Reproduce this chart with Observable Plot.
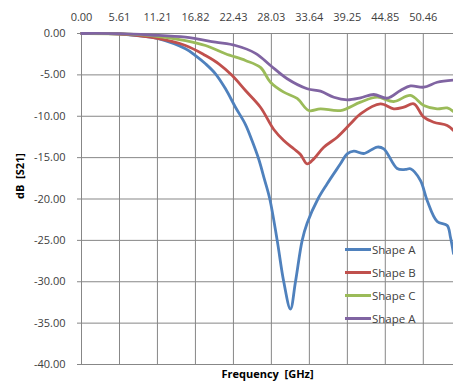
<!DOCTYPE html>
<html>
<head>
<meta charset="utf-8">
<script src="https://cdn.jsdelivr.net/npm/d3@7"></script>
<script src="https://cdn.jsdelivr.net/npm/@observablehq/plot@0.6"></script>
<style>
  html, body { margin: 0; padding: 0; background: #fff; }
  #wrap { position: relative; width: 453px; height: 385px; font-family: "Open Sans", "Liberation Sans", sans-serif; }
  #legend { position: absolute; left: 345px; top: 237.5px; font-size: 11.5px; color: #404040; }
  .li { display: flex; align-items: center; height: 23px; }
  .sw { width: 26px; height: 0; border-top: 3px solid; margin-right: 1px; }
</style>
</head>
<body>
<div id="wrap"></div>
<script>
// Frequency tick values/labels (GHz)
const xTicks = [0, 5.61, 11.21, 16.82, 22.43, 28.03, 33.64, 39.25, 44.85, 50.46];
const yTicks = [0, -5, -10, -15, -20, -25, -30, -35, -40];

const seriesNames = ["Shape A", "Shape B", "Shape C", "Shape A"];
const seriesColors = ["#4F81BD", "#C0504D", "#9BBB59", "#8064A2"];

// Shape A (blue)
const freqA = [0, 5.61, 10.19, 11.22, 15.35, 16.83, 18.31, 19.78, 21.26, 22.73, 24.21, 25.2, 26.17, 27.0, 27.8, 28.89, 29.86, 30.85, 31.59, 32.58, 33.32, 34.9, 36.27, 38.23, 39.22, 40.2, 41.67, 43.65, 44.63, 46.6, 47.83, 48.57, 50.04, 51.03, 52.51, 53.99, 54.47, 54.92];
const dbA   = [0, -0.06, -0.45, -0.6, -1.85, -2.66, -3.66, -4.87, -6.68, -8.91, -11.0, -13.0, -15.2, -17.6, -20.0, -25.0, -30.0, -33.3, -30.0, -25.0, -22.9, -20.0, -18.16, -15.75, -14.54, -14.22, -14.5, -13.72, -13.93, -16.31, -16.43, -16.35, -17.76, -20.18, -22.72, -23.2, -24.62, -26.6];

// Shape B (red)
const freqB = [0, 5.61, 10.19, 15.35, 18.31, 20.27, 22.25, 24.21, 26.42, 28.39, 29.86, 31.34, 32.33, 33.32, 34.29, 35.77, 37.75, 39.71, 41.19, 44.14, 46.1, 47.58, 49.06, 50.53, 52.01, 53.99, 54.92];
const dbB   = [0, -0.06, -0.45, -1.45, -2.66, -3.66, -5.08, -6.89, -8.91, -11.6, -12.93, -13.93, -14.62, -15.75, -15.15, -13.74, -12.53, -10.91, -9.7, -8.5, -9.1, -8.91, -8.5, -10.11, -10.72, -11.12, -11.72];

// Shape C (green)
const freqC = [0, 5.61, 10.19, 15.35, 18.31, 21.26, 24.21, 26.42, 27.9, 29.86, 31.84, 33.55, 35.28, 38.23, 41.19, 43.65, 46.1, 48.57, 50.53, 52.51, 53.99, 54.92];
const dbC   = [0, -0.04, -0.24, -0.85, -1.45, -2.45, -3.26, -4.1, -5.89, -7.09, -7.85, -9.31, -9.1, -9.31, -8.3, -7.7, -8.22, -7.49, -8.7, -9.1, -9.0, -9.43];

// Shape A (purple, fourth series)
const freqD = [0, 5.61, 10.19, 15.35, 19.78, 22.73, 25.69, 27.9, 30.37, 33.32, 35.28, 37.25, 39.22, 41.19, 43.15, 45.13, 47.09, 48.57, 50.53, 52.51, 54.92];
const dbD   = [0, -0.02, -0.18, -0.45, -1.05, -1.45, -2.4, -3.87, -5.47, -6.68, -6.97, -7.7, -8.01, -7.77, -7.37, -7.82, -6.89, -6.34, -6.49, -5.89, -5.62];

const allFreq = [freqA, freqB, freqC, freqD];
const allDb = [dbA, dbB, dbC, dbD];

const rows = [];
allFreq.forEach((fs, i) => fs.forEach((f, j) => rows.push({s: i, f, db: allDb[i][j]})));

const grid = "#878787";
const chart = Plot.plot({
  width: 453,
  height: 385,
  marginTop: 33,
  marginLeft: 81,
  marginRight: 0,
  marginBottom: 21,
  style: {fontFamily: "'Open Sans', 'Liberation Sans', sans-serif", fontSize: "11px", color: "#404040", background: "#fff"},
  x: {domain: [0, 54.92]},
  y: {domain: [-40, 0]},
  marks: [
    Plot.gridX(xTicks, {stroke: grid, strokeOpacity: 1}),
    Plot.gridY(yTicks, {stroke: grid, strokeOpacity: 1}),
    Plot.axisX({anchor: "top", ticks: xTicks, tickFormat: d => d.toFixed(2), tickSize: 0, tickPadding: 13, label: null}),
    Plot.axisY({anchor: "left", ticks: yTicks, tickFormat: d => d.toFixed(2), tickSize: 4, tickPadding: 12, stroke: grid, label: null}),
    ...allFreq.map((_, i) => Plot.line(rows.filter(r => r.s === i), {x: "f", y: "db", stroke: seriesColors[i], strokeWidth: 2.8, curve: "catmull-rom"})),
    Plot.text(["Frequency\u00a0 [GHz]"], {frameAnchor: "bottom", dy: 13, text: d => d, fontWeight: "bold", fill: "#000", fontSize: 11}),
    Plot.text(["dB\u00a0 [S21]"], {frameAnchor: "left", dx: -61, rotate: -90, text: d => d, fontWeight: "bold", fill: "#000", fontSize: 11})
  ]
});
const wrap = document.getElementById("wrap");
wrap.appendChild(chart);

const leg = document.createElement("div");
leg.id = "legend";
seriesNames.forEach((n, i) => {
  const li = document.createElement("div");
  li.className = "li";
  const sw = document.createElement("span");
  sw.className = "sw";
  sw.style.borderTopColor = seriesColors[i];
  const t = document.createElement("span");
  t.textContent = n;
  li.appendChild(sw); li.appendChild(t);
  leg.appendChild(li);
});
wrap.appendChild(leg);
</script>
</body>
</html>
